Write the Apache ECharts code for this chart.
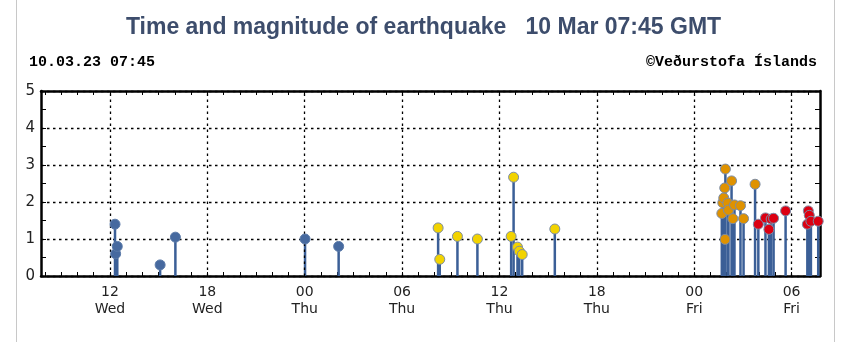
<!DOCTYPE html>
<html>
<head>
<meta charset="utf-8">
<script src="https://cdn.jsdelivr.net/npm/echarts@6/dist/echarts.min.js"></script>
<style>html,body{margin:0;padding:0;background:#fff}#c{width:847px;height:342px}</style>
</head>
<body>
<div id="c"></div>
<script>
// hours counted from Wed 00:00 GMT; axis spans Wed 07:45 .. Fri 07:45
const blueHours = [12.31, 12.35, 12.45, 15.09, 16.03, 24.02, 26.09];
const blueMags  = [1.4, 0.6, 0.8, 0.3, 1.05, 1.0, 0.8];

const yellowHours = [32.22, 32.32, 33.41, 34.64, 36.72, 36.87, 37.11, 37.22, 37.40, 39.41];
const yellowMags  = [1.3, 0.45, 1.07, 1.0, 1.07, 2.67, 0.78, 0.67, 0.58, 1.27];

const orangeHours = [49.70, 49.76, 49.82, 49.92, 49.88, 49.90, 50.07, 50.11, 50.30, 50.38, 50.48, 50.85, 51.04, 51.75];
const orangeMags  = [1.69, 1.98, 2.11, 2.89, 2.38, 0.99, 1.97, 1.78, 2.57, 1.55, 1.92, 1.9, 1.55, 2.48];

const redHours = [51.95, 52.39, 52.60, 52.74, 52.89, 53.63, 54.97, 55.03, 55.09, 55.19, 55.64];
const redMags  = [1.4, 1.57, 1.26, 1.54, 1.56, 1.76, 1.4, 1.76, 1.64, 1.48, 1.48];

const tickHours  = [12, 18, 24, 30, 36, 42, 48, 54];
const tickLabels = ['12\nWed', '18\nWed', '00\nThu', '06\nThu', '12\nThu', '18\nThu', '00\nFri', '06\nFri'];

const xMin = 7.75, xMax = 55.75;
const hourTicks = [];
for (let h = 8; h <= 55; h++) hourTicks.push(h);

const pairs = (hs, ms) => hs.map((h, i) => [h, ms[i]]);
const allStems = [].concat(
  pairs(blueHours, blueMags), pairs(yellowHours, yellowMags),
  pairs(orangeHours, orangeMags), pairs(redHours, redMags));

const chart = echarts.init(document.getElementById('c'), null, {renderer: 'canvas'});

const markerSeries = (name, hs, ms, fill, border) => ({
  name, type: 'scatter', xAxisIndex: 0, yAxisIndex: 0,
  data: pairs(hs, ms), symbol: 'circle', symbolSize: 10, z: 5,
  itemStyle: {color: fill, borderColor: border, borderWidth: 1, opacity: 1},
  silent: true
});

const labelMap = {};
tickHours.forEach((h, i) => labelMap[h] = tickLabels[i]);

chart.setOption({
  animation: false,
  title: [
    {text: 'Time and magnitude of earthquake   10 Mar 07:45 GMT', left: 'center', top: 11,
     textStyle: {fontFamily: 'Liberation Sans', fontWeight: 'bold', fontSize: 23, color: '#3d4d6c'}},
    {text: '10.03.23 07:45', left: 24, top: 50,
     textStyle: {fontFamily: 'Liberation Mono', fontWeight: 'bold', fontSize: 15, color: '#000'}},
    {text: '©Veðurstofa Íslands', right: 25, top: 50,
     textStyle: {fontFamily: 'Liberation Mono', fontWeight: 'bold', fontSize: 15, color: '#000'}}
  ],
  graphic: [
    {type: 'line', shape: {x1: 16.5, y1: 0, x2: 16.5, y2: 342}, style: {stroke: '#c8c8c8', lineWidth: 1}},
    {type: 'line', shape: {x1: 834.5, y1: 0, x2: 834.5, y2: 342}, style: {stroke: '#c8c8c8', lineWidth: 1}}
  ],
  grid: {left: 41, right: 27, top: 91, bottom: 66, containLabel: false},
  xAxis: [
    {type: 'value', position: 'bottom', min: xMin, max: xMax,
     axisLine: {show: true, onZero: false, lineStyle: {color: '#000', width: 2.5}},
     axisTick: {show: true, inside: true, length: 4, customValues: hourTicks, lineStyle: {color: '#000', width: 1}},
     axisLabel: {show: true, customValues: tickHours, margin: 8, color: '#222',
       fontFamily: 'DejaVu Sans', fontSize: 14, lineHeight: 17,
       formatter: v => labelMap[Math.round(v)] || ''},
     splitLine: {show: false}},
    {type: 'value', position: 'top', min: xMin, max: xMax,
     axisLine: {show: true, onZero: false, lineStyle: {color: '#000', width: 2.5}},
     axisTick: {show: true, inside: true, length: 4, customValues: hourTicks, lineStyle: {color: '#000', width: 1}},
     axisLabel: {show: false}, splitLine: {show: false}}
  ],
  yAxis: [
    {type: 'value', position: 'left', min: 0, max: 5, interval: 1,
     axisLine: {show: true, onZero: false, lineStyle: {color: '#000', width: 2.5}},
     axisTick: {show: true, inside: true, length: 5, lineStyle: {color: '#000'}},
     minorTick: {show: true, splitNumber: 2, length: 5, lineStyle: {color: '#000'}},
     axisLabel: {show: true, margin: 6, color: '#222', fontFamily: 'DejaVu Sans', fontSize: 15},
     splitLine: {show: true, lineStyle: {color: '#000', type: [2.5, 3.5], width: 1.3}}},
    {type: 'value', position: 'right', min: 0, max: 5, interval: 1,
     axisLine: {show: true, onZero: false, lineStyle: {color: '#000', width: 2.5}},
     axisTick: {show: true, inside: true, length: 5, lineStyle: {color: '#000'}},
     minorTick: {show: true, splitNumber: 2, length: 5, lineStyle: {color: '#000'}},
     axisLabel: {show: false}, splitLine: {show: false}}
  ],
  series: [
    {type: 'custom', name: 'stems', xAxisIndex: 0, yAxisIndex: 0, z: 3, silent: true,
     data: allStems, encode: {x: 0, y: 1},
     renderItem: (params, api) => {
       const t = api.coord([api.value(0), api.value(1)]);
       const b = api.coord([api.value(0), 0]);
       return {type: 'line', shape: {x1: t[0], y1: t[1], x2: b[0], y2: b[1]},
               style: {stroke: '#3b5f97', lineWidth: 2.5}};
     },
     markLine: {silent: true, symbol: 'none', label: {show: false},
       lineStyle: {color: '#000', type: [2.5, 3.5], width: 1.3},
       data: tickHours.map(h => ({xAxis: h}))}
    },
    markerSeries('blue', blueHours, blueMags, '#46699f', '#5b7aa8'),
    markerSeries('yellow', yellowHours, yellowMags, '#f2d300', '#7b8ca6'),
    markerSeries('orange', orangeHours, orangeMags, '#df9200', '#7b8ca6'),
    markerSeries('red', redHours, redMags, '#dc0012', '#7b8ca6')
  ]
});
</script>
</body>
</html>
